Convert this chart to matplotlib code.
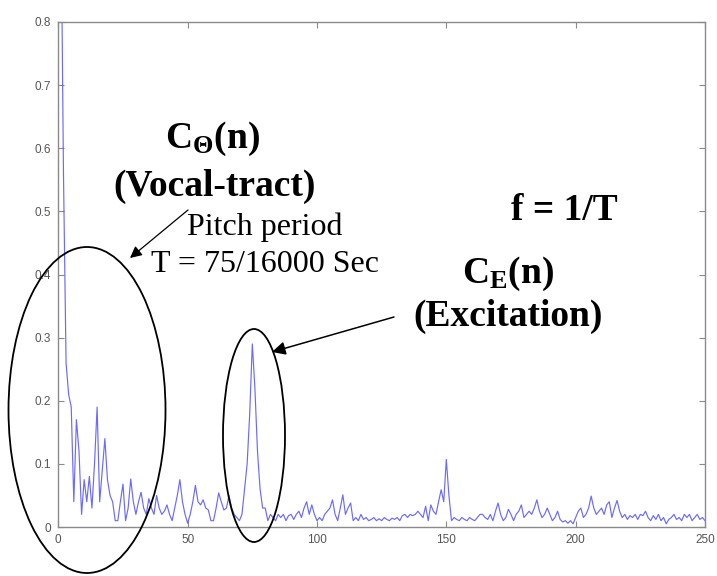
import matplotlib
matplotlib.use("Agg")
import matplotlib.pyplot as plt
from matplotlib.patches import Ellipse
import numpy as np

# ---- data (cepstrum magnitude) ----
quefrency = list(range(1, 251))
cepstrum = [
    1.00, 0.56, 0.26, 0.21, 0.19, 0.04, 0.17, 0.12, 0.02, 0.075,      # 1-10
    0.04, 0.08, 0.03, 0.10, 0.19, 0.04, 0.09, 0.14, 0.075, 0.05,      # 11-20
    0.04, 0.01, 0.01, 0.04, 0.068, 0.01, 0.03, 0.076, 0.04, 0.02,     # 21-30
    0.04, 0.055, 0.03, 0.02, 0.045, 0.03, 0.02, 0.05, 0.03, 0.02,     # 31-40
    0.025, 0.035, 0.02, 0.01, 0.03, 0.05, 0.075, 0.04, 0.02, 0.006,   # 41-50
    0.02, 0.04, 0.066, 0.04, 0.035, 0.043, 0.03, 0.027, 0.01, 0.01,   # 51-60
    0.03, 0.054, 0.04, 0.027, 0.03, 0.05, 0.03, 0.02, 0.015, 0.01,    # 61-70
    0.02, 0.06, 0.10, 0.18, 0.29, 0.22, 0.12, 0.06, 0.03, 0.03,       # 71-80
    0.01, 0.02, 0.015, 0.01, 0.02, 0.015, 0.02, 0.01, 0.018, 0.02,    # 81-90
    0.012, 0.02, 0.025, 0.015, 0.03, 0.04, 0.02, 0.035, 0.02, 0.01,   # 91-100
    0.015, 0.01, 0.02, 0.025, 0.03, 0.043, 0.02, 0.01, 0.03, 0.051,   # 101-110
    0.02, 0.03, 0.038, 0.01, 0.015, 0.01, 0.02, 0.012, 0.015, 0.01,   # 111-120
    0.012, 0.015, 0.01, 0.013, 0.01, 0.015, 0.012, 0.01, 0.014, 0.012,  # 121-130
    0.015, 0.01, 0.018, 0.02, 0.015, 0.02, 0.018, 0.02, 0.025, 0.02,  # 131-140
    0.015, 0.033, 0.01, 0.035, 0.025, 0.02, 0.04, 0.059, 0.04, 0.107, # 141-150
    0.05, 0.01, 0.015, 0.012, 0.01, 0.015, 0.012, 0.01, 0.015, 0.012, # 151-160
    0.01, 0.015, 0.02, 0.02, 0.015, 0.012, 0.02, 0.01, 0.025, 0.038,  # 161-170
    0.02, 0.01, 0.015, 0.028, 0.02, 0.01, 0.02, 0.025, 0.035, 0.015,  # 171-180
    0.02, 0.025, 0.02, 0.03, 0.043, 0.025, 0.015, 0.02, 0.03, 0.02,   # 181-190
    0.01, 0.015, 0.025, 0.012, 0.008, 0.01, 0.006, 0.01, 0.005, 0.015,  # 191-200
    0.025, 0.03, 0.015, 0.02, 0.03, 0.049, 0.03, 0.02, 0.025, 0.03,   # 201-210
    0.02, 0.035, 0.04, 0.015, 0.03, 0.042, 0.025, 0.015, 0.02, 0.012, # 211-220
    0.018, 0.015, 0.02, 0.012, 0.02, 0.018, 0.025, 0.015, 0.01, 0.018,  # 221-230
    0.012, 0.02, 0.01, 0.015, 0.005, 0.012, 0.015, 0.02, 0.012, 0.015,  # 231-240
    0.01, 0.02, 0.015, 0.02, 0.01, 0.015, 0.02, 0.012, 0.015, 0.01,   # 241-250
]
x_ticks = [0, 50, 100, 150, 200, 250]
x_tick_labels = ["0", "50", "100", "150", "200", "250"]
y_ticks = [0, 0.1, 0.2, 0.3, 0.4, 0.5, 0.6, 0.7, 0.8]
y_tick_labels = ["0", "0.1", "0.2", "0.3", "0.4", "0.5", "0.6", "0.7", "0.8"]

plt.rcParams['mathtext.fontset'] = 'custom'
plt.rcParams['mathtext.rm'] = 'Liberation Serif'
plt.rcParams['mathtext.bf'] = 'Liberation Serif:bold'
plt.rcParams['mathtext.it'] = 'Liberation Serif:italic'

W, H = 717, 576
fig = plt.figure(figsize=(W / 100, H / 100), dpi=100)
fig.patch.set_facecolor('white')


def fx(px):
    return px / W


def fy(py):
    return 1 - py / H


ax = fig.add_axes([fx(58.3), fy(527), fx(705) - fx(58.3), fy(22) - fy(527)])
ax.plot(quefrency, cepstrum, color='#5a5aff', lw=0.85, alpha=0.9)
ax.set_xlim(0, 250)
ax.set_ylim(0, 0.8)
ax.set_xticks(x_ticks)
ax.set_xticklabels(x_tick_labels)
ax.set_yticks(y_ticks)
ax.set_yticklabels(y_tick_labels)
for sp in ax.spines.values():
    sp.set_color('#8a8a8a')
    sp.set_linewidth(1.0)
ax.tick_params(direction='in', length=4, width=0.8, color='#8a8a8a',
               top=True, right=True, labelsize=8.5, labelcolor='#555555', pad=5)
for lab in ax.get_xticklabels() + ax.get_yticklabels():
    lab.set_family('Liberation Sans')

# ---- annotations (figure pixel layout) ----
serif = 'Liberation Serif'
fig.text(fx(212), fy(148), r'$\mathbf{C_{\Theta}(n)}$', fontsize=27,
         ha='center', va='baseline', color='black')
fig.text(fx(215), fy(196), '(Vocal-tract)', fontsize=27, fontweight='bold',
         family=serif, ha='center', va='baseline', color='black')
fig.text(fx(265), fy(235), 'Pitch period', fontsize=23, family=serif,
         ha='center', va='baseline', color='black')
fig.text(fx(265), fy(272), 'T = 75/16000 Sec', fontsize=23, family=serif,
         ha='center', va='baseline', color='black')
fig.text(fx(564), fy(220), 'f = 1/T', fontsize=27, fontweight='bold',
         family=serif, ha='center', va='baseline', color='black')
fig.text(fx(508), fy(283), r'$\mathbf{C_{E}(n)}$', fontsize=27,
         ha='center', va='baseline', color='black')
fig.text(fx(508), fy(326), '(Excitation)', fontsize=27, fontweight='bold',
         family=serif, ha='center', va='baseline', color='black')

# ellipses
e1 = Ellipse((fx(87), fy(410)), fx(157), 326 / H, fill=False, ec='black',
             lw=1.3, transform=fig.transFigure, clip_on=False)
e2 = Ellipse((fx(254), fy(435.5)), fx(62), 213 / H, fill=False, ec='black',
             lw=1.3, transform=fig.transFigure, clip_on=False)
fig.add_artist(e1)
fig.add_artist(e2)

# arrows
fig.add_artist(matplotlib.patches.FancyArrowPatch(
    (fx(188), fy(210)), (fx(130), fy(258)), transform=fig.transFigure,
    arrowstyle='-|>,head_length=7,head_width=3.5', color='black', lw=0.9,
    shrinkA=0, shrinkB=0))
fig.add_artist(matplotlib.patches.FancyArrowPatch(
    (fx(394), fy(317)), (fx(272), fy(352)), transform=fig.transFigure,
    arrowstyle='-|>,head_length=8,head_width=4', color='black', lw=1.1,
    shrinkA=0, shrinkB=0))

fig.savefig('out.png', dpi=100)
